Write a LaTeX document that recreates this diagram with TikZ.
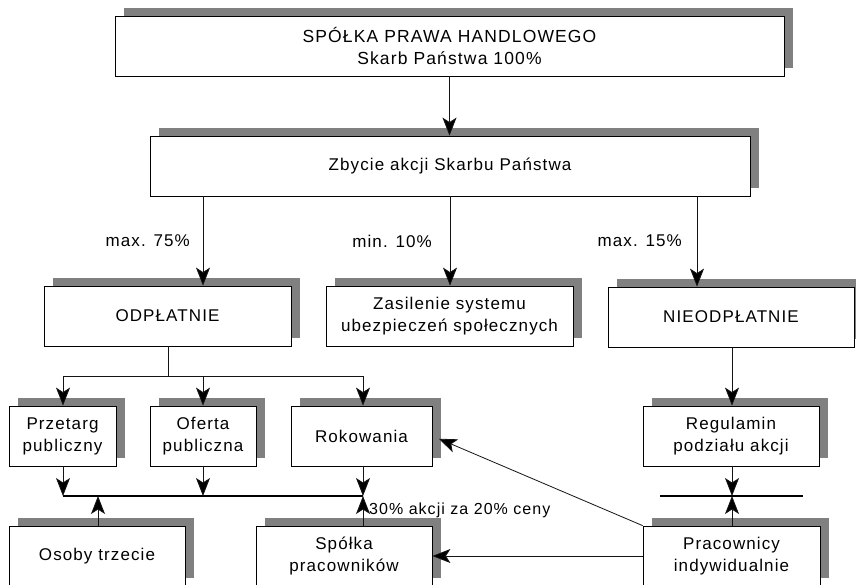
\documentclass[tikz,border=0pt]{standalone}
\usepackage{fontspec}
\setmainfont{Liberation Sans}[LetterSpace=6.5]
\usetikzlibrary{arrows.meta,shadows}
\definecolor{shadowgray}{RGB}{128,128,128}
\definecolor{linegray}{RGB}{20,20,20}
\tikzset{
  box/.style={draw=black, line width=0.8pt, fill=white, align=center, inner sep=0pt,
    font=\fontsize{17}{22}\selectfont, minimum height=60pt,
    drop shadow={shadow xshift=9pt, shadow yshift=8pt, fill=shadowgray, opacity=1}},
  conn/.style={draw=linegray, line width=0.8pt},
  arr/.style={conn, -{Stealth[length=18pt,width=14pt,inset=4.5pt,fill=black]}},
  bar/.style={draw=black, line width=2.6pt},
  lbl/.style={font=\fontsize{17}{18}\selectfont, inner sep=0pt},
}
\begin{document}
\begin{tikzpicture}[x=1pt, y=-1pt]
\useasboundingbox (0,0) rectangle (856,584);
\clip (0,0) rectangle (856,584);
\fill[white] (0,0) rectangle (856,584);
% boxes
\node[box, minimum width=669pt, font=\fontsize{17.5}{22}\selectfont] (top) at (449.5,46) {SPÓŁKA PRAWA HANDLOWEGO\\Skarb Państwa 100\%};
\node[box, minimum width=600pt] (zb) at (450,166) {Zbycie akcji Skarbu Państwa};
\node[box, minimum width=247pt] (odp) at (167.5,316) {ODPŁATNIE};
\node[box, minimum width=247pt] (zas) at (449.5,316) {Zasilenie systemu\\ubezpieczeń społecznych};
\node[box, minimum width=246pt] (nie) at (731,317) {NIEODPŁATNIE};
\node[box, minimum width=107pt] (prz) at (62.5,436) {Przetarg\\publiczny};
\node[box, minimum width=106pt] (ofe) at (203,436) {Oferta\\publiczna};
\node[box, minimum width=141pt] (rok) at (361.5,436) {Rokowania};
\node[box, minimum width=176pt] (reg) at (731,436) {Regulamin\\podziału akcji};
\node[box, minimum width=176pt] (oso) at (97,556) {Osoby trzecie};
\node[box, minimum width=176pt] (spp) at (344,556) {Spółka\\pracowników};
\node[box, minimum width=177pt] (pra) at (731.5,556) {Pracownicy\\indywidualnie};
% helper coordinates
\coordinate (c203) at (203,0);
\coordinate (c450) at (450,0);
\coordinate (c697) at (697,0);
\coordinate (f) at (168,376);
\coordinate (j1) at (63,496);
\coordinate (j2) at (203,496);
\coordinate (j3) at (363,496);
\coordinate (jo) at (98,496);
\coordinate (k) at (732,496);
\coordinate (kl) at (660,496);
\coordinate (kr) at (803,496);
% connectors
\draw[arr] (top.south) -- (top.south |- zb.north);
\draw[arr] (zb.south -| c203) -- (odp.north -| c203);
\draw[arr] (zb.south -| c450) -- (zas.north -| c450);
\draw[arr] (zb.south -| c697) -- (nie.north -| c697);
\draw[conn] (odp.south -| f) -- (f);
\draw[conn] (f -| j1) -- (f -| j3);
\draw[arr] (f -| j1) -- (prz.north -| j1);
\draw[arr] (f -| j2) -- (ofe.north -| j2);
\draw[arr] (f -| j3) -- (rok.north -| j3);
\draw[arr] (nie.south -| k) -- (reg.north -| k);
\draw[bar] (j1) -- (j3);
\draw[arr] (prz.south -| j1) -- (j1);
\draw[arr] (ofe.south -| j2) -- (j2);
\draw[arr] (rok.south -| j3) -- (j3);
\draw[arr] (oso.north -| jo) -- (jo);
\draw[arr] (spp.north -| j3) -- (j3);
\draw[bar] (kl) -- (kr);
\draw[arr] (reg.south -| k) -- (k);
\draw[arr] (pra.north -| k) -- (k);
\draw[arr, shorten >=7pt] (pra.north west) -- (rok.east);
\draw[arr] (pra.west) -- (spp.east);
% labels
\node[lbl, anchor=east] (l75) at (190,241) {max. 75\%};
\node[lbl, anchor=east] (l10) at (432,241) {min. 10\%};
\node[lbl, anchor=east] (l15) at (682,241) {max. 15\%};
\node[lbl, anchor=west, font=\fontsize{16}{17}\selectfont] (l30) at (369,510) {30\% akcji za 20\% ceny};
\end{tikzpicture}
\end{document}
